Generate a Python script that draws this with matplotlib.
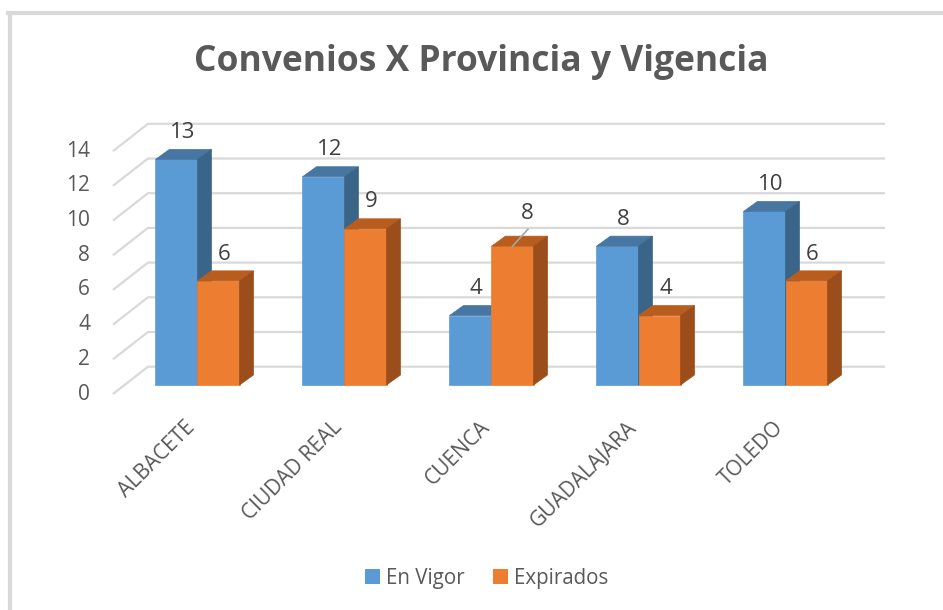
import matplotlib
matplotlib.use('Agg')
import matplotlib.pyplot as plt
from matplotlib.patches import Polygon, Rectangle
from matplotlib.lines import Line2D

provincias = ['ALBACETE', 'CIUDAD REAL', 'CUENCA', 'GUADALAJARA', 'TOLEDO']
en_vigor = [13, 12, 4, 8, 10]
expirados = [6, 9, 8, 4, 6]
y_ticks = [0, 2, 4, 6, 8, 10, 12, 14]
series_names = ['En Vigor', 'Expirados']

plt.rcParams['font.family'] = ['Open Sans', 'DejaVu Sans']

# colores: frente, tapa, lateral
colors = {
    'En Vigor': ('#5b9bd5', '#4776a3', '#3b6489'),
    'Expirados': ('#ed7d31', '#b95d1f', '#9b4e1c'),
}
text_col = '#595959'
grid_col = '#d9d9d9'

width = 0.286      # ancho de barra
dx, dy = 0.095, 0.58   # profundidad de la barra
wall_dx, wall_dy = 0.238, 1.055   # fondo de la pared
floor_x, floor_y = -0.575, -0.52  # esquina frontal de las rejillas
wall_end = 4.677

fig = plt.figure(figsize=(9.43, 6.10), dpi=100)
ax = fig.add_axes([0, 0, 1, 1])
ax.set_xlim(-1.3435, 5.0714)
ax.set_ylim(-12.968, 22.19)
ax.axis('off')

# rejillas (pared + diagonales)
for v in y_ticks:
    ax.plot([floor_x, floor_x + wall_dx, wall_end], [v + floor_y, v + wall_dy, v + wall_dy],
            color=grid_col, lw=1.6, zorder=1, solid_capstyle='butt')
    ax.text(floor_x - 0.155, v + floor_y, str(v), ha='right', va='center',
            fontsize=15, color=text_col)


def bar3d(x0, v, name):
    front, top, side = colors[name]
    x1 = x0 + width
    ax.add_patch(Rectangle((x0, 0), width, v, facecolor=front, edgecolor=front, lw=0.5, zorder=3))
    ax.add_patch(Polygon([(x0, v), (x0 + dx, v + dy), (x1 + dx, v + dy), (x1, v)],
                         facecolor=top, edgecolor=top, lw=0.5, zorder=3))
    ax.add_patch(Polygon([(x1, 0), (x1 + dx, dy), (x1 + dx, v + dy), (x1, v)],
                         facecolor=side, edgecolor=side, lw=0.5, zorder=3))


for i, prov in enumerate(provincias):
    for j, (name, vals) in enumerate(zip(series_names, [en_vigor, expirados])):
        x0 = i - width + j * width
        v = vals[i]
        bar3d(x0, v, name)
        cx = x0 + width / 2
        lx, ly = cx + 0.04, v + dy + 0.97
        if prov == 'CUENCA' and name == 'Expirados':
            # etiqueta desplazada con línea guía
            ax.plot([cx, cx + 0.105], [v, v + 0.98], color='#a6a6a6', lw=1.2, zorder=4)
            lx, ly = cx + 0.1, v + dy + 1.3
        ax.text(lx, ly, str(v), ha='center', va='center', fontsize=16, color='#404040', zorder=5)
    ax.text(i - 0.085, -1.85, prov, rotation=45, rotation_mode='anchor', ha='right', va='top',
            fontsize=15, color=text_col)

fig.text(0.51, 0.898, 'Convenios X Provincia y Vigencia', ha='center', va='center',
         fontsize=25.5, fontweight='bold', color=text_col)

handles = [Rectangle((0, 0), 1, 1, facecolor=colors[n][0]) for n in series_names]
fig.legend(handles, series_names, loc='center', bbox_to_anchor=(0.516, 0.052), ncol=2,
           frameon=False, fontsize=14.8, labelcolor=text_col, handlelength=0.7, handleheight=0.7,
           handletextpad=0.3, columnspacing=1.4)

# borde del gráfico (solo arriba e izquierda visibles)
fig.add_artist(Line2D([9.5 / 943, 9.5 / 943], [0, 1 - 12.5 / 610], transform=fig.transFigure,
                      color=grid_col, lw=3))
fig.add_artist(Line2D([8 / 943, 1], [1 - 12.5 / 610, 1 - 12.5 / 610], transform=fig.transFigure,
                      color=grid_col, lw=3))

fig.savefig('out.png', dpi=100)
